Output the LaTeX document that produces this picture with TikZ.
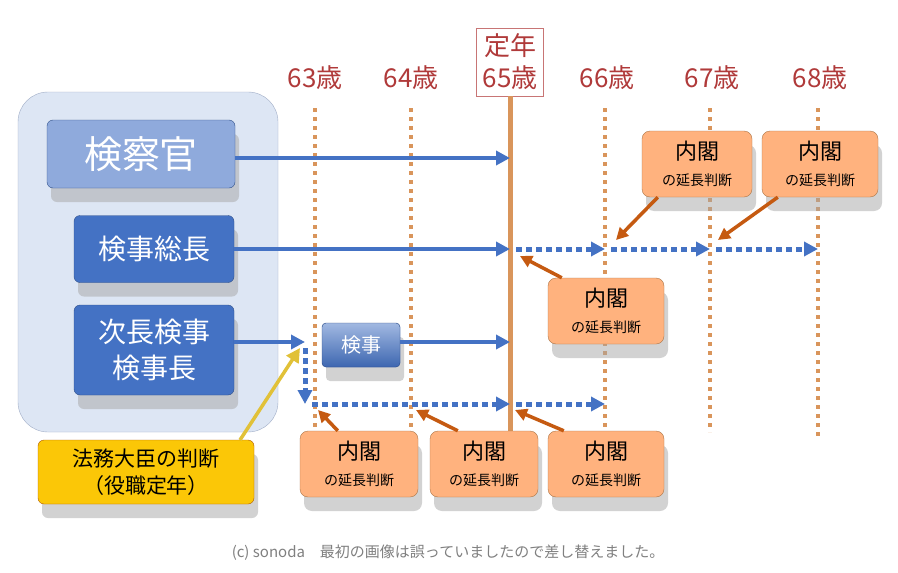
\documentclass[tikz,border=0pt]{standalone}
\usepackage{fontspec}
\setmainfont{Noto Sans CJK JP}
\usetikzlibrary{arrows.meta,shadows}
\definecolor{agered}{HTML}{B03A3A}
\definecolor{lineor}{HTML}{D9955B}
\definecolor{arrowor}{HTML}{C55A11}
\definecolor{bl}{HTML}{4472C4}
\tikzset{
 sh/.style={drop shadow={shadow xshift=4pt,shadow yshift=-14pt,fill=black!35,opacity=0.5}},
 bluebox/.style={draw=bl!70!black,fill=bl,rounded corners=6pt,text=white,align=center,sh},
 orbox/.style={draw=lineor!80!black,fill=orange!45!white!90!red,rounded corners=8pt,align=center,sh,minimum width=116pt,minimum height=66pt,font=\fontsize{22}{26}\selectfont},
 age/.style={text=agered,font=\fontsize{26}{28}\selectfont},
 vdot/.style={lineor,line width=3.5pt,dash pattern=on 4pt off 5pt},
 harr/.style={bl,line width=3.5pt,-{Triangle[length=14pt,width=14pt]}},
 hdot/.style={bl,line width=5pt,dash pattern=on 6pt off 4pt,-{Triangle[length=14pt,width=14pt]}},
 oarr/.style={arrowor,line width=3.5pt,-{Triangle[length=12pt,width=12pt]}}
}
\newcommand{\naikaku}{内閣\\{\fontsize{14}{16}\selectfont の延長判断}}
\begin{document}
\begin{tikzpicture}[x=1pt,y=-1pt]
\useasboundingbox[fill=white] (0,0) rectangle (898,573);
\node[draw=bl!50!gray!60,fill=bl!18!white,rounded corners=30pt,minimum width=260pt,minimum height=340pt] (frame) at (148,262) {};
% ages
\node[age] (a63) at (315,78) {63歳};
\node[age] (a64) at (411,78) {64歳};
\node[draw=agered!70,age,align=center,inner sep=6pt,font=\fontsize{26}{32}\selectfont] (a65) at (510,62) {定年\\65歳};
\node[age] (a66) at (607,78) {66歳};
\node[age] (a67) at (712,78) {67歳};
\node[age] (a68) at (820,78) {68歳};
\coordinate (b63) at (315,440);\coordinate (b64) at (411,440);\coordinate (b65) at (510,440);
\coordinate (b66) at (605,432);\coordinate (b67) at (710,432);\coordinate (b68) at (818,440);
\draw[vdot] (315,108) -- (b63);
\draw[vdot] (411,108) -- (b64);
\draw[vdot] (605,108) -- (b66);
\draw[vdot] (710,108) -- (b67);
\draw[vdot] (818,108) -- (b68);
\draw[lineor,line width=5pt] (a65.south) -- (b65);
% blue boxes
\node[bluebox,fill=bl!60!white,minimum width=188pt,minimum height=68pt,font=\fontsize{38}{40}\selectfont] (kensatsu) at (141,154) {検察官};
\node[bluebox,minimum width=160pt,minimum height=67pt,font=\fontsize{28}{30}\selectfont] (sochou) at (154,249) {検事総長};
\node[bluebox,minimum width=160pt,minimum height=90pt,font=\fontsize{28}{36}\selectfont] (jicho) at (154,350) {次長検事\\検事長};
\node[bluebox,top color=bl!50!white,bottom color=bl!90!black,rounded corners=4pt,minimum width=78pt,minimum height=44pt,font=\fontsize{20}{22}\selectfont] (kenji) at (361,345) {検事};
% blue arrows
\coordinate (k65) at (510,158);
\draw[harr] (kensatsu.east|-k65) -- (k65);
\coordinate (s65) at (510,249);\coordinate (s66) at (605,249);\coordinate (s67) at (710,249);\coordinate (s68) at (818,249);
\draw[harr] (sochou.east|-s65) -- (s65);
\draw[hdot] ([xshift=6pt]s65) -- (s66);
\draw[hdot] ([xshift=6pt]s66) -- (s67);
\draw[hdot] ([xshift=6pt]s67) -- (s68);
\coordinate (j63) at (305,342);
\draw[harr] (jicho.east|-j63) -- (j63);
\draw[harr] (kenji.east|-j63) -- (510,342);
\coordinate (d63) at (305,404);
\draw[hdot] (305,348) -- (d63);
\coordinate (d65) at (510,404);\coordinate (d66) at (605,404);
\draw[hdot] (312,404) -- (d65);
\draw[hdot] ([xshift=6pt]d65) -- (d66);
% orange boxes
\node[orbox,minimum width=110pt] (n1) at (697,164) {\naikaku};
\node[orbox] (n2) at (820,164) {\naikaku};
\node[orbox] (n3) at (606,311) {\naikaku};
\node[orbox,minimum width=118pt] (n4) at (359,464) {\naikaku};
\node[orbox,minimum width=108pt] (n5) at (484,464) {\naikaku};
\node[orbox] (n6) at (606,464) {\naikaku};
\draw[oarr] (n1.south west) ++(16,0) -- (616,240);
\draw[oarr] (n2.south west) ++(16,0) -- (718,240);
\draw[oarr] (n3.north west) ++(14,0) -- (520,256);
\draw[oarr] (n4.north west) ++(38,0) -- (318,410);
\draw[oarr] (n5.north west) ++(28,0) -- (416,410);
\draw[oarr] (n6.north west) ++(16,0) -- (515,410);
% yellow
\node[draw=orange!70!black,fill=yellow!60!orange,rounded corners=6pt,minimum width=216pt,minimum height=64pt,align=center,font=\fontsize{21}{27}\selectfont,sh] (homu) at (146,472) {法務大臣の判断\\（役職定年）};
\draw[line width=3.5pt,yellow!50!brown,-{Triangle[length=14pt,width=14pt]}] (240,440) -- (300,348);
\node[text=gray,font=\fontsize{15}{17}\selectfont] (cap) at (448,553) {(c) sonoda\quad 最初の画像は誤っていましたので差し替えました。};
\end{tikzpicture}
\end{document}
